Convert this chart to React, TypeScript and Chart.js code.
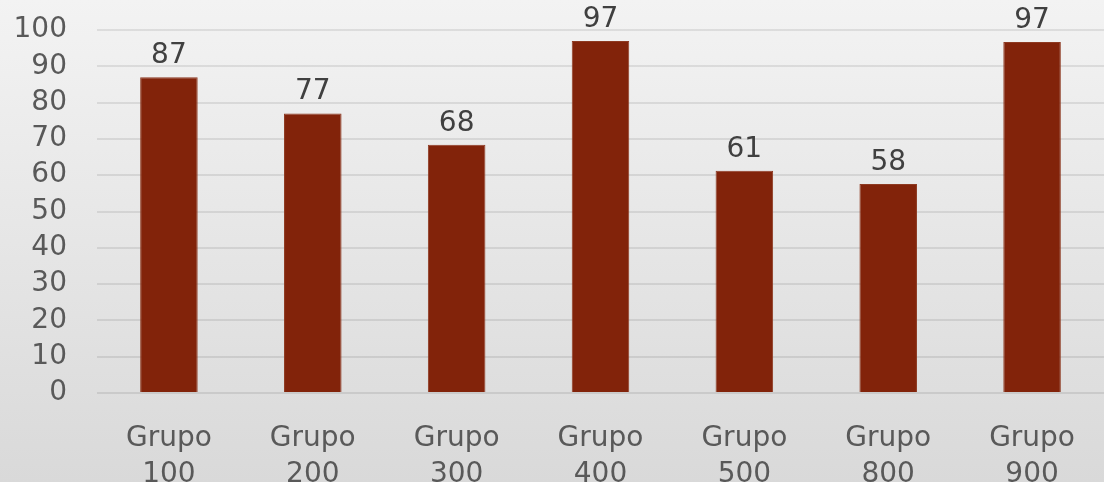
import React, { useEffect, useRef } from "react";
import { Chart, registerables } from "chart.js";

Chart.register(...registerables);

const categories: string[][] = [
  ["Grupo", "100"],
  ["Grupo", "200"],
  ["Grupo", "300"],
  ["Grupo", "400"],
  ["Grupo", "500"],
  ["Grupo", "800"],
  ["Grupo", "900"],
];
const values: number[] = [87, 77, 68.4, 97, 61.2, 57.6, 96.7];
const yTicks = { min: 0, max: 100, step: 10 };

const FONT = "'DejaVu Sans', sans-serif";

const bgPlugin = {
  id: "bgGradient",
  beforeDraw(chart: any) {
    const { ctx, width, height } = chart;
    const g = ctx.createLinearGradient(0, 0, 0, height);
    g.addColorStop(0, "#f3f3f3");
    g.addColorStop(1, "#d9d9d9");
    ctx.save();
    ctx.fillStyle = g;
    ctx.fillRect(0, 0, width, height);
    ctx.restore();
  },
};

const labelPlugin = {
  id: "valueLabels",
  afterDatasetsDraw(chart: any) {
    const { ctx } = chart;
    const meta = chart.getDatasetMeta(0);
    ctx.save();
    ctx.font = `28px ${FONT}`;
    ctx.fillStyle = "#404040";
    ctx.textAlign = "center";
    ctx.textBaseline = "alphabetic";
    meta.data.forEach((bar: any, i: number) => {
      ctx.fillText(String(Math.round(values[i])), bar.x, bar.y - 14);
    });
    ctx.restore();
  },
};

export default function App() {
  const ref = useRef<HTMLCanvasElement | null>(null);
  useEffect(() => {
    document.body.style.margin = "0";
    if (!ref.current) return;
    const chart = new Chart(ref.current, {
      type: "bar",
      data: {
        labels: categories,
        datasets: [
          {
            data: values,
            backgroundColor: "#82230A",
            borderColor: "#8e3a22",
            borderWidth: 1,
            categoryPercentage: 1,
            barPercentage: 0.4,
          },
        ],
      },
      options: {
        animation: false,
        responsive: true,
        maintainAspectRatio: false,
        layout: { padding: { top: 30, left: 0, right: 0, bottom: 0 } },
        plugins: { legend: { display: false }, tooltip: { enabled: false } },
        scales: {
          x: {
            grid: { display: false, drawTicks: false },
            border: { display: false },
            ticks: {
              color: "#595959",
              font: { family: FONT, size: 28, lineHeight: 1.28 },
              padding: 28,
              maxRotation: 0,
              autoSkip: false,
            },
            afterFit(scale: any) {
              scale.height = 89;
              scale.paddingLeft = 0;
              scale.paddingRight = 0;
              scale.paddingTop = 0;
              scale.paddingBottom = 0;
            },
          },
          y: {
            min: yTicks.min,
            max: yTicks.max,
            grid: { color: "rgba(0,0,0,0.085)", lineWidth: 2, drawTicks: false },
            border: { display: false },
            ticks: {
              stepSize: yTicks.step,
              autoSkip: false,
              color: "#595959",
              font: { family: FONT, size: 28 },
              padding: 30,
            },
            afterFit(scale: any) {
              scale.width = 97;
              scale.paddingTop = 0;
              scale.paddingBottom = 0;
            },
          },
        },
      },
      plugins: [bgPlugin, labelPlugin],
    });
    return () => chart.destroy();
  }, []);
  return (
    <div style={{ width: 1104, height: 482, position: "relative" }}>
      <canvas ref={ref} />
    </div>
  );
}
